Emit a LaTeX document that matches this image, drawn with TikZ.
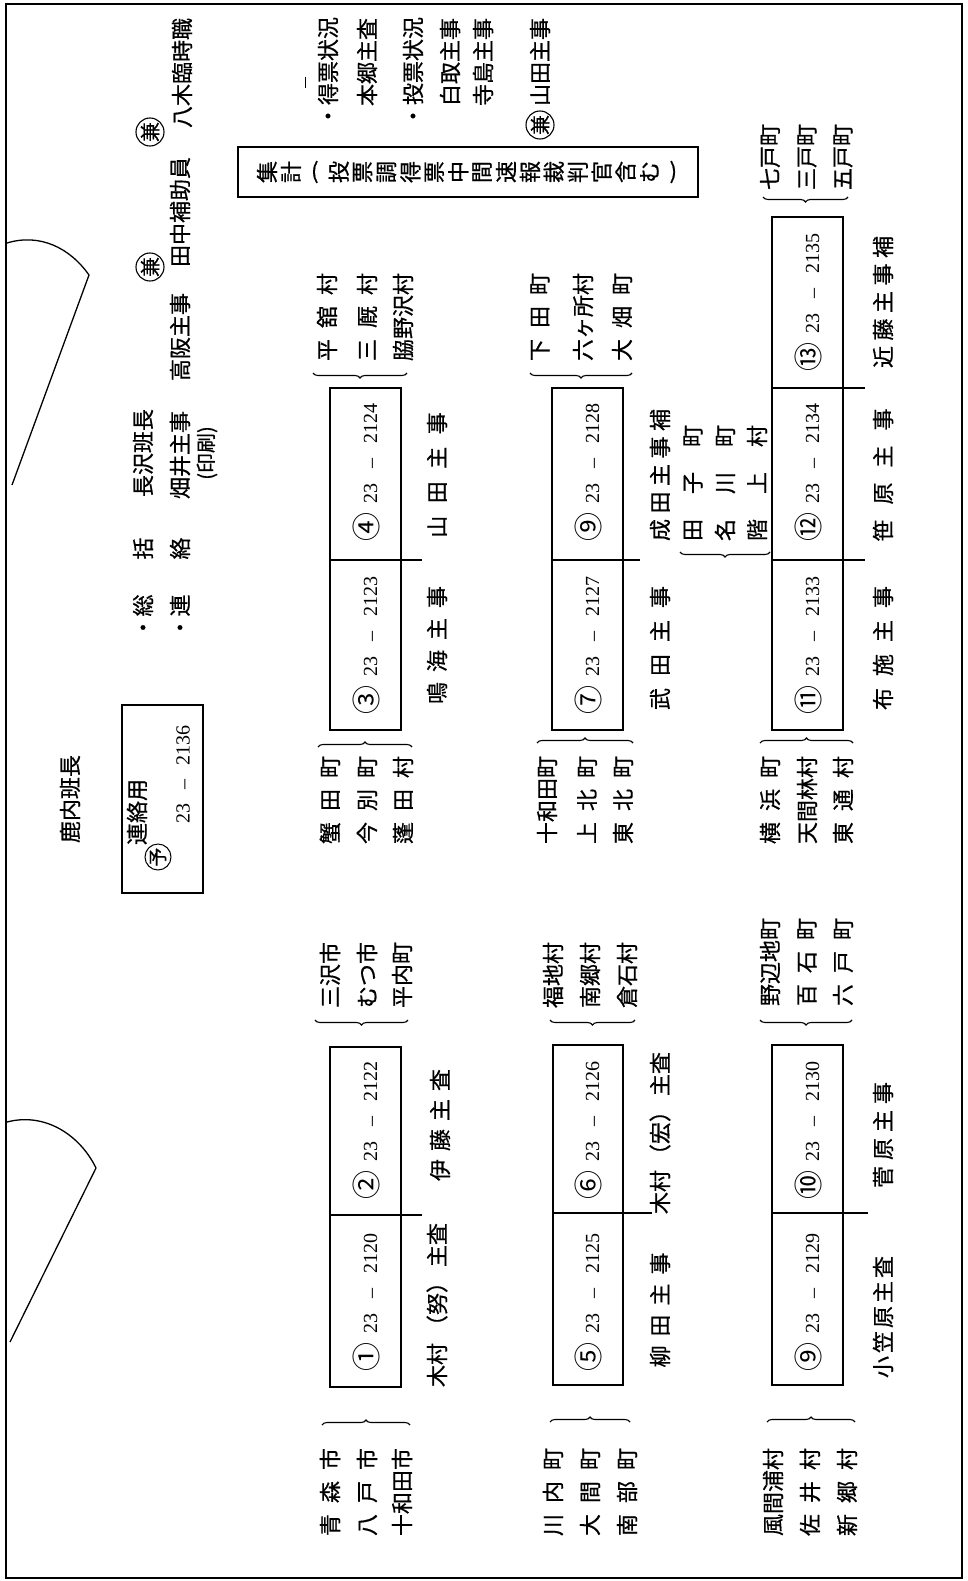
\documentclass[tikz,border=0pt]{standalone}
\usepackage{fontspec}
\setmainfont{Liberation Serif}
\newfontfamily\jp{Noto Sans CJK JP}[FakeBold=0.6]
\newfontfamily\jpc{Noto Sans CJK JP}
\newfontfamily\num{Liberation Serif}
\usetikzlibrary{decorations.pathreplacing}
\newcommand\lsp[2]{\def\lspgap{#1}\lspA#2\relax}
\def\lspA#1{\ifx\relax#1\else#1\expandafter\lspB\fi}
\def\lspB#1{\ifx\relax#1\else\hspace{\lspgap pt}#1\expandafter\lspB\fi}
\newcommand\telno[2]{{\jpc\fontsize{29}{29}\selectfont#1}\hspace{9pt}{\num\fontsize{20}{20}\selectfont 23\hspace{15pt}–\hspace{15pt}#2}}
\tikzset{
  jt/.style={rotate=90, inner sep=0pt, font=\jp\fontsize{22}{22}\selectfont},
  jtel/.style={rotate=90, inner sep=0pt},
  pbox/.style={draw, line width=1.6pt},
  divl/.style={draw, line width=1.6pt},
  brc/.style={decorate, decoration={brace, amplitude=5pt}, line width=1.1pt},
  ken/.style={draw, circle, line width=1.1pt, minimum size=28pt, inner sep=0pt, rotate=90, font=\jp\fontsize{20}{20}\selectfont},
  ch/.style={rotate=90, inner sep=0pt, font=\jp\fontsize{22}{22}\selectfont}
}
\begin{document}
\begin{tikzpicture}[x=1pt,y=-1pt]
\useasboundingbox (0,0) rectangle (967,1581);
\fill[white] (0,0) rectangle (967,1581);
% frame
\draw[line width=1.6pt] (6,4) rectangle (962,1578);
% binder marks
\draw[line width=1.3pt] (7,243) .. controls (40,233) and (70,248) .. (89,275) -- (12,485);
\draw[line width=1.3pt] (7,1122) .. controls (45,1112) and (80,1135) .. (96,1168) -- (10,1342);

% title and contact box
\node[jt] (title) at (70,799) {鹿内班長};
\draw[pbox] (122,705) rectangle (203,893);
\node[jt] (renraku) at (137,812) {連絡用};
\node[draw, circle, line width=1pt, minimum size=26pt, inner sep=0pt, rotate=90, font=\jp\fontsize{19}{19}\selectfont] (yo) at (158,857) {予};
\node[jtel] (t0) at (183,774) {\num\fontsize{20}{20}\selectfont 23\hspace{14pt}–\hspace{14pt}2136};

% header rows
\node[jt] (sokatsu) at (143,588) {・総\hspace{35pt}括};
\node[jt] (nagasawa) at (143,453) {長沢班長};
\node[jt] (renr) at (180,588) {・連\hspace{35pt}絡};
\node[jt] (hatai) at (180,455) {畑井主事};
\node[jt, font=\jp\fontsize{20}{20}\selectfont] (insatsu) at (207,453) {(印刷)};
\node[jt] (takasaka) at (180,337) {高阪主事};
\node[ken] (k1) at (150,267) {兼};
\node[jt] (tanaka) at (180,212) {田中補助員};
\node[ken] (k2) at (150,132) {兼};
\node[jt] (yagi) at (182,73) {八木臨時職};

% right-top list
\draw[line width=0.9pt] (305,77) -- (305,88);
\node[jt] (tokuhyo) at (328,72) {・得票状況};
\node[jt] (hongo) at (367,62) {本郷主査};
\node[jt] (tohyo) at (413,72) {・投票状況};
\node[jt] (shiratori) at (450,62) {白取主事};
\node[jt] (terashima) at (483,62) {寺島主事};
\node[ken] (k3) at (540,125) {兼};
\node[jt] (yamada2) at (540,62) {山田主事};

% shukei box
\draw[pbox] (238,147) rectangle (698,197);
\foreach \i/\c in {0/集,1/計,3/投,4/票,5/調,6/得,7/票,8/中,9/間,10/速,11/報,12/裁,13/判,14/官,15/含,16/む}
  \node[ch] (s\i) at ({267+\i*23.9},172) {\c};
\node[inner sep=0pt, font=\jp\fontsize{22}{22}\selectfont] (sp1) at ({267+2*23.9},172) {(};
\node[inner sep=0pt, font=\jp\fontsize{22}{22}\selectfont] (sp2) at ({267+17*23.9},172) {)};

% phone boxes
\draw[pbox] (330,388) rectangle (401,730);
\draw[divl] (330,560) -- (422,560);
\draw[pbox] (552,388) rectangle (623,730);
\draw[divl] (552,560) -- (640,560);
\draw[pbox] (772,217) rectangle (843,730);
\draw[divl] (772,388) -- (865,388);
\draw[divl] (772,560) -- (865,560);
\draw[pbox] (330,1047) rectangle (401,1387);
\draw[divl] (330,1215) -- (422,1215);
\draw[pbox] (553,1045) rectangle (623,1385);
\draw[divl] (553,1213) -- (652,1213);
\draw[pbox] (772,1045) rectangle (843,1385);
\draw[divl] (772,1213) -- (868,1213);

\node[jtel] (p4) at (366,472) {\telno{④}{2124}};
\node[jtel] (p3) at (366,645) {\telno{③}{2123}};
\node[jtel] (p2) at (366,1130) {\telno{②}{2122}};
\node[jtel] (p1) at (366,1302) {\telno{①}{2120}};
\node[jtel] (p9a) at (588,472) {\telno{⑨}{2128}};
\node[jtel] (p7) at (588,645) {\telno{⑦}{2127}};
\node[jtel] (p6) at (588,1130) {\telno{⑥}{2126}};
\node[jtel] (p5) at (588,1302) {\telno{⑤}{2125}};
\node[jtel] (p13) at (808,302) {\telno{⑬}{2135}};
\node[jtel] (p12) at (808,472) {\telno{⑫}{2134}};
\node[jtel] (p11) at (808,645) {\telno{⑪}{2133}};
\node[jtel] (p10) at (808,1130) {\telno{⑩}{2130}};
\node[jtel] (p9b) at (808,1302) {\telno{⑨}{2129}};

% names
\node[jt] (narumi) at (437,645) {\lsp{10}{鳴海主事}};
\node[jt] (yamada) at (437,475) {\lsp{12.5}{山田主事}};
\node[jt] (ito) at (440,1125) {\lsp{8}{伊藤主査}};
\node[jt] (kimura1) at (437,1305) {木村\hspace{6pt}（努）\hspace{4pt}主査};
\node[jt] (kimura2) at (660,1133) {木村\hspace{4pt}（宏）\hspace{4pt}主査};
\node[jt] (yanagida) at (660,1310) {\lsp{9}{柳田主事}};
\node[jt] (takeda) at (660,648) {\lsp{12}{武田主事}};
\node[jt] (narita) at (660,475) {\lsp{5.5}{成田主事補}};
\node[jt] (sasahara) at (883,475) {\lsp{15}{笹原主事}};
\node[jt] (fuse) at (883,648) {\lsp{12}{布施主事}};
\node[jt] (kondo) at (883,302) {\lsp{5.5}{近藤主事補}};
\node[jt] (sugawara) at (883,1135) {\lsp{6}{菅原主事}};
\node[jt] (ogasawara) at (883,1317) {\lsp{3}{小笠原主査}};

% town groups
\node[jt] (a1) at (327,317) {\lsp{11}{平舘村}};
\node[jt] (a2) at (367,317) {\lsp{11}{三厩村}};
\node[jt] (a3) at (403,317) {脇野沢村};
\node[jt] (b1) at (540,317) {\lsp{11}{下田町}};
\node[jt] (b2) at (583,317) {六ヶ所村};
\node[jt] (b3) at (622,317) {\lsp{11}{大畑町}};
\node[jt] (c1) at (770,157) {七戸町};
\node[jt] (c2) at (807,157) {三戸町};
\node[jt] (c3) at (843,157) {五戸町};
\node[jt] (d1) at (330,800) {\lsp{11}{蟹田町}};
\node[jt] (d2) at (367,800) {\lsp{11}{今別町}};
\node[jt] (d3) at (403,800) {\lsp{11}{蓬田村}};
\node[jt] (e1) at (547,800) {十和田町};
\node[jt] (e2) at (587,800) {\lsp{11}{上北町}};
\node[jt] (e3) at (623,800) {\lsp{11}{東北町}};
\node[jt] (f1) at (770,800) {\lsp{11}{横浜町}};
\node[jt] (f2) at (807,800) {天間林村};
\node[jt] (f3) at (843,800) {\lsp{11}{東通村}};
\node[jt] (g1) at (693,483) {\lsp{25}{田子町}};
\node[jt] (g2) at (725,483) {\lsp{25}{名川町}};
\node[jt] (g3) at (757,483) {\lsp{25}{階上村}};
\node[jt] (h1) at (330,975) {三沢市};
\node[jt] (h2) at (367,975) {むつ市};
\node[jt] (h3) at (402,975) {平内町};
\node[jt] (i1) at (553,975) {福地村};
\node[jt] (i2) at (590,975) {南郷村};
\node[jt] (i3) at (627,975) {倉石村};
\node[jt] (j1) at (770,962) {野辺地町};
\node[jt] (j2) at (807,962) {\lsp{11}{百石町}};
\node[jt] (j3) at (843,962) {\lsp{11}{六戸町}};
\node[jt] (k1t) at (330,1492) {\lsp{11}{青森市}};
\node[jt] (k2t) at (367,1492) {\lsp{11}{八戸市}};
\node[jt] (k3t) at (402,1492) {十和田市};
\node[jt] (l1) at (553,1492) {\lsp{11}{川内町}};
\node[jt] (l2) at (590,1492) {\lsp{11}{大間町}};
\node[jt] (l3) at (627,1492) {\lsp{11}{南部町}};
\node[jt] (m1) at (773,1492) {風間浦村};
\node[jt] (m2) at (810,1492) {\lsp{11}{佐井村}};
\node[jt] (m3) at (847,1492) {\lsp{11}{新郷村}};

% braces
\draw[brc] (407,373) -- (313,373);
\draw[brc] (632,373) -- (530,373);
\draw[brc] (848,197) -- (763,197);
\draw[brc] (318,747) -- (412,747);
\draw[brc] (537,743) -- (633,743);
\draw[brc] (760,743) -- (853,743);
\draw[brc] (770,552) -- (680,552);
\draw[brc] (408,1020) -- (315,1020);
\draw[brc] (635,1020) -- (550,1020);
\draw[brc] (852,1020) -- (760,1020);
\draw[brc] (322,1425) -- (410,1425);
\draw[brc] (550,1422) -- (630,1422);
\draw[brc] (767,1422) -- (855,1422);
\end{tikzpicture}
\end{document}
